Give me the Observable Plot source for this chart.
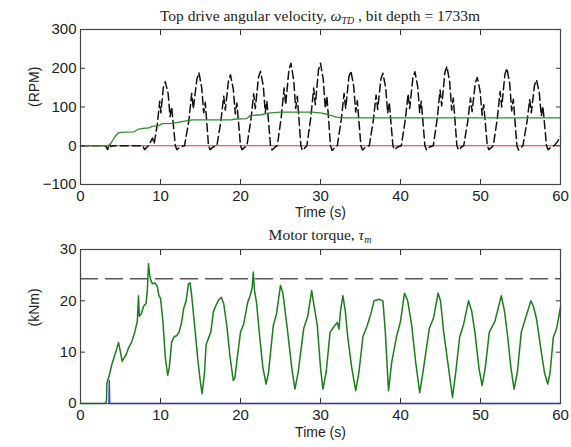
<!DOCTYPE html>
<html><head><meta charset="utf-8">
<script src="https://cdn.jsdelivr.net/npm/d3@7"></script>
<script src="https://cdn.jsdelivr.net/npm/@observablehq/plot@0.6"></script>
<style>
body{margin:0;background:#fff;}
#wrap{position:relative;width:571px;height:447px;overflow:hidden;background:#fff;}
.chart{position:absolute;left:0;}
.title{position:absolute;left:80px;width:480px;text-align:center;font-family:"Liberation Serif","DejaVu Serif",serif;font-size:15.5px;color:#222;white-space:nowrap;line-height:1;}
.title sub{font-size:10px;vertical-align:-3px;}
</style></head><body>
<div id="wrap">
 <div id="c1" class="chart" style="top:0"></div>
 <div id="c2" class="chart" style="top:225px"></div>
 <div class="title" style="top:8px">Top drive angular velocity, <i>ω</i><sub><i>TD</i></sub> , bit depth = 1733m</div>
 <div class="title" style="top:227px">Motor torque, <i>τ</i><sub><i>m</i></sub></div>
</div>
<script>
// ---- tick labels ----
const timeTicks = [0, 10, 20, 30, 40, 50, 60];
const rpmTicks = [-100, 0, 100, 200, 300];
const knmTicks = [0, 10, 20, 30];

// ---- top panel: reference (red), top drive velocity (green), bit velocity (black dashed) ----
const refT = [0, 60];
const refV = [0, 0];

const tdT = [0, 3.4, 3.7, 4.2, 4.7, 5.5, 6.7, 7.2, 7.8, 8.6, 8.9, 9.8, 10.2, 11.5, 12.3, 13.2, 14, 18.8, 19.5, 20.8, 21.2, 22.6, 23.5, 25, 29, 30.2, 31, 32, 33, 60];
const tdV = [0, 0, 3, 20, 33, 35, 36, 42, 45, 46, 50, 52, 57, 58, 61, 64, 67, 67, 69, 70, 78, 80, 84, 87, 87, 84, 80, 74, 72, 72];

const bitT = [0, 3.1, 3.4, 3.6, 3.8, 4.2, 7.8, 8.0, 8.5, 9.0, 9.2,
  9.6, 9.9, 10.05, 10.35, 10.6, 10.95, 11.2, 11.4, 11.85, 12.05, 12.45,
  13.0, 13.55, 13.9, 14.1, 14.55, 14.8, 15.15, 15.4, 15.6, 16.0, 16.2, 16.6,
  17.05, 17.55, 17.9, 18.1, 18.5, 18.75, 19.1, 19.35, 19.55, 20.0, 20.2, 20.6,
  20.8, 21.3, 21.65, 21.85, 22.25, 22.5, 22.85, 23.1, 23.3, 23.75, 23.95, 24.35,
  24.6, 25.1, 25.45, 25.65, 26.05, 26.3, 26.65, 26.9, 27.1, 27.55, 27.75, 28.15,
  28.3, 28.8, 29.15, 29.35, 29.75, 30.0, 30.35, 30.6, 30.8, 31.25, 31.45, 31.85,
  32.1, 32.6, 32.95, 33.15, 33.55, 33.8, 34.15, 34.4, 34.6, 35.05, 35.25, 35.65,
  36.1, 36.6, 36.95, 37.15, 37.55, 37.8, 38.15, 38.4, 38.6, 39.05, 39.25, 39.65,
  40.1, 40.6, 40.95, 41.15, 41.55, 41.8, 42.15, 42.4, 42.6, 43.05, 43.25, 43.65,
  44.1, 44.6, 44.95, 45.15, 45.55, 45.8, 46.15, 46.4, 46.6, 47.05, 47.25, 47.65,
  47.9, 48.4, 48.75, 48.95, 49.35, 49.6, 49.95, 50.2, 50.4, 50.85, 51.05, 51.45,
  51.6, 52.1, 52.45, 52.65, 53.05, 53.3, 53.65, 53.9, 54.1, 54.55, 54.75, 55.15,
  55.3, 55.8, 56.15, 56.35, 56.75, 57.0, 57.35, 57.6, 57.8, 58.25, 58.45, 58.85,
  59.2, 59.6, 60];
const bitV = [0, 0, -10, 5, -2, 0, 0, -10, 0, 20, 5,
  55, 115, 85, 150, 165, 135, 75, 100, 0, -10, -3,
  0, 65, 135, 95, 172, 189, 150, 85, 112, 0, -10, -3,
  0, 64, 128, 92, 168, 183, 146, 82, 110, 0, -10, -3,
  0, 67, 134, 96, 177, 192, 154, 86, 115, 0, -11, -3,
  0, 75, 149, 106, 196, 213, 170, 96, 128, 0, -12, -3,
  0, 75, 149, 106, 196, 213, 170, 96, 128, 0, -12, -3,
  0, 68, 135, 96, 178, 193, 154, 87, 116, 0, -11, -3,
  0, 65, 131, 94, 172, 187, 150, 84, 112, 0, -10, -3,
  0, 67, 134, 96, 176, 191, 153, 86, 115, 0, -11, -3,
  0, 72, 144, 103, 189, 205, 164, 92, 123, 0, -11, -3,
  0, 62, 123, 88, 162, 176, 141, 79, 106, 0, -10, -3,
  0, 70, 140, 100, 184, 200, 160, 90, 120, 0, -11, -3,
  0, 60, 119, 85, 156, 170, 136, 77, 102, 0, -10, -3,
  0, 10, 25];

// ---- bottom panel: motor torque (green), limit (grey dashed), blue trace ----
const torqueT = [0, 3.1, 3.25, 3.3, 3.6, 3.9, 4.2, 4.5, 4.75, 5.0, 5.2, 5.4, 5.7, 6.0, 6.4, 6.8, 7.1, 7.25, 7.35, 7.6, 7.9, 8.2, 8.35, 8.5, 8.65, 8.8, 9.0, 9.3, 9.6, 9.8, 10.0, 10.3, 10.6, 10.9, 11.1, 11.4, 11.7, 12.0, 12.3, 12.6, 12.9, 13.2, 13.5, 13.7, 13.9, 14.3, 14.7, 15.0, 15.2, 15.5, 15.7, 15.9, 16.3, 16.6, 16.9, 17.2, 17.6, 17.9, 18.3, 18.7, 19.1, 19.3, 19.6, 20.0, 20.4, 20.9, 21.2, 21.45, 21.6, 21.75, 22.0, 22.4, 22.8, 23.2, 23.5, 24.1, 24.5, 25.0, 25.3, 25.9, 26.4, 26.8, 27.2, 27.9, 28.4, 28.9, 29.2, 29.6, 30.0, 30.3, 30.7, 31.2, 31.7, 32.1, 32.3, 32.5, 32.8, 33.1, 33.4, 33.9, 34.4, 34.8, 35.3, 35.8, 36.3, 36.7, 37.3, 37.8, 38.1, 38.5, 38.9, 39.5, 40.0, 40.5, 40.9, 41.4, 41.9, 42.4, 42.8, 43.6, 44.1, 44.7, 45.0, 45.4, 46.0, 46.5, 46.9, 47.4, 47.9, 48.5, 48.9, 49.3, 49.8, 50.2, 50.6, 51.1, 51.8, 52.6, 53.0, 53.4, 53.8, 54.2, 54.6, 55.1, 55.7, 56.3, 56.6, 57.0, 57.6, 58.0, 58.4, 58.7, 59.1, 59.5, 60];
const torqueV = [0, 0, 0.5, 4, 5.5, 7.5, 9, 10.5, 11.9, 10, 8.2, 8.8, 9.5, 10.8, 12, 14, 16, 21, 17, 17.5, 19, 19.5, 22, 27.2, 25, 24, 23.3, 23.5, 22.8, 21, 20.5, 16, 9, 5.5, 7, 12, 13, 13.2, 13.8, 15.5, 18.5, 20, 23.3, 23.5, 21, 14.6, 8, 4, 1.9, 6, 11.5, 12.3, 14, 17.8, 19, 20, 20.7, 19.5, 15, 9, 4.5, 5, 9, 13.9, 15.5, 19.7, 21, 22.5, 25.6, 22, 19.7, 13, 7, 3.8, 6, 15.2, 17.5, 23, 21.5, 13.9, 7, 2.8, 6, 14.6, 17, 22, 19, 15.2, 7, 2.8, 6, 13.9, 15, 15.8, 14.5, 18, 21, 18, 13, 7, 2.5, 6, 13, 15, 17.5, 20, 20.3, 20, 14, 2.5, 8, 13, 16, 21.5, 20, 15.2, 8, 2.1, 6, 14.6, 16.5, 21.5, 20, 13.9, 7, 1.2, 6, 13, 15.5, 20, 18, 13.9, 7, 3.5, 7, 13.9, 16, 21, 18, 13, 7, 2.8, 6, 13.9, 17, 20, 19, 16.5, 10, 6, 3.8, 6, 12.9, 14.5, 18.7];

const limitT = [0, 60];
const limitV = [24.3, 24.3];

const blueT = [3.55, 3.6, 3.65, 60];
const blueV = [0, 4.5, 0, 0];

// ---- drawing ----
const font = '"Liberation Sans", Arial, sans-serif';
const common = {
  width: 571, marginLeft: 80, marginRight: 11,
  style: {fontFamily: font, fontSize: "15px", color: "#222", background: "transparent", overflow: "visible"}
};

function frameAxes(yTicks, yLabel, labelDy) {
  return [
    Plot.axisX(timeTicks, {anchor: "bottom", tickSize: 0, tickPadding: 6, label: null, fontSize: 15}),
    Plot.axisX(timeTicks, {anchor: "bottom", tickSize: -5, tickFormat: () => "", label: null, stroke: "#333"}),
    Plot.axisX(timeTicks, {anchor: "top", tickSize: -5, tickFormat: () => "", label: null, stroke: "#333"}),
    Plot.axisY(yTicks, {anchor: "left", tickSize: 0, tickPadding: 4, label: null, fontSize: 15}),
    Plot.axisY(yTicks, {anchor: "left", tickSize: -5, tickFormat: () => "", label: null, stroke: "#333"}),
    Plot.axisY(yTicks, {anchor: "right", tickSize: -5, tickFormat: () => "", label: null, stroke: "#333"}),
    Plot.text(["Time (s)"], {frameAnchor: "bottom", dy: labelDy, fontSize: 14, fill: "#222"}),
    Plot.text([yLabel], {frameAnchor: "left", dx: -46, rotate: -90, fontSize: 14, fill: "#222"}),
    Plot.frame({stroke: "#444", strokeWidth: 1.2})
  ];
}

const p1 = Plot.plot({
  ...common, height: 225, marginTop: 29, marginBottom: 41,
  x: {domain: [0, 60]}, y: {domain: [-100, 300]},
  marks: [
    Plot.line(refV, {x: refT, y: refV, stroke: "#e03535", strokeWidth: 1.2}),
    Plot.line(bitV, {x: bitT, y: bitV, stroke: "#111", strokeWidth: 1.5, strokeDasharray: "8,4"}),
    Plot.line(tdV, {x: tdT, y: tdV, stroke: "#2e8b2e", strokeWidth: 1.3}),
    ...frameAxes(rpmTicks, "(RPM)", 32)
  ]
});
document.getElementById("c1").append(p1);

const p2 = Plot.plot({
  ...common, height: 222, marginTop: 24, marginBottom: 44,
  x: {domain: [0, 60]}, y: {domain: [0, 30]},
  marks: [
    Plot.line(limitV, {x: limitT, y: limitV, stroke: "#555", strokeWidth: 1.5, strokeDasharray: "17,8"}),
    Plot.line(blueV, {x: blueT, y: blueV, stroke: "#4646d8", strokeWidth: 1.5}),
    Plot.line(torqueV, {x: torqueT, y: torqueV, stroke: "#1b7d1b", strokeWidth: 1.5}),
    ...frameAxes(knmTicks, "(kNm)", 33)
  ]
});
document.getElementById("c2").append(p2);
</script>
</body></html>
